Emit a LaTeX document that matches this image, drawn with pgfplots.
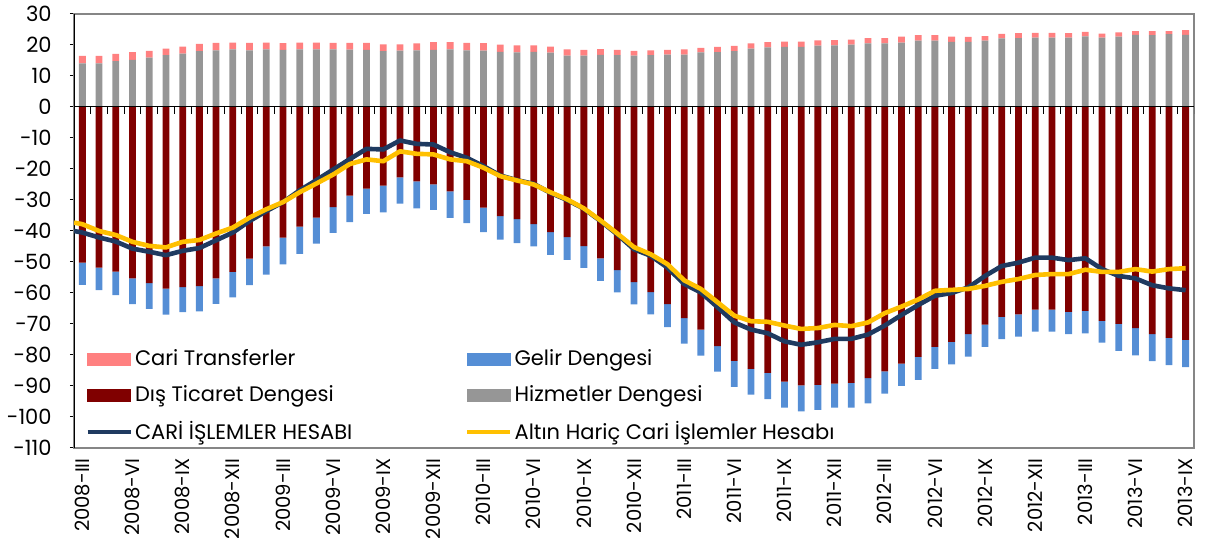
\documentclass[border=0pt]{standalone}
\usepackage{pgfplots}
\usepackage{pgfplotstable}
\pgfplotsset{compat=1.18}
\usepackage{fontspec}
\setmainfont{Poppins}
\definecolor{ctr}{HTML}{FF8080}
\definecolor{dtd}{HTML}{800000}
\definecolor{gel}{HTML}{558ED5}
\definecolor{hiz}{HTML}{969696}
\definecolor{cari}{HTML}{1F3A60}
\definecolor{altin}{HTML}{FFC000}
\definecolor{frame}{HTML}{868686}

\pgfplotstableread{
x H T D G
0 14.1 2.4 -50.2 -7.2
1 14.1 2.4 -51.8 -7.3
2 14.8 2.3 -53.1 -7.6
3 15.2 2.5 -55.3 -8.3
4 15.9 2.2 -56.8 -8.3
5 16.7 2.1 -58.6 -8.4
6 17.2 2.3 -58.1 -8.1
7 18.0 2.4 -57.8 -8.1
8 18.3 2.4 -55.3 -8.2
9 18.6 2.2 -53.2 -8.2
10 18.3 2.4 -48.9 -8.6
11 18.6 2.2 -45.0 -9.1
12 18.4 2.2 -42.1 -8.7
13 18.6 2.2 -38.6 -8.8
14 18.6 2.2 -35.7 -8.4
15 18.6 2.1 -32.3 -8.3
16 18.5 2.2 -28.6 -8.5
17 18.4 2.3 -26.3 -8.2
18 18.0 2.2 -25.4 -8.6
19 18.2 2.0 -22.7 -8.5
20 18.3 2.2 -24.0 -8.7
21 18.4 2.5 -25.0 -8.2
22 18.6 2.3 -27.2 -8.6
23 18.3 2.4 -30.0 -7.5
24 18.2 2.4 -32.5 -7.9
25 17.8 2.3 -35.2 -7.6
26 17.6 2.3 -36.2 -7.7
27 17.8 2.1 -37.8 -7.2
28 17.5 2.0 -40.4 -7.3
29 16.6 2.0 -42.0 -7.3
30 16.6 1.8 -44.9 -7.0
31 16.8 1.9 -48.8 -7.3
32 16.7 1.7 -52.6 -7.2
33 16.6 1.5 -56.5 -7.2
34 16.7 1.6 -59.7 -7.2
35 16.9 1.5 -63.6 -7.4
36 16.9 1.7 -68.1 -8.2
37 17.6 1.5 -71.8 -8.4
38 17.7 1.7 -77.1 -8.3
39 18.0 1.7 -81.9 -8.4
40 18.8 1.7 -84.5 -8.3
41 19.2 1.7 -85.8 -8.4
42 19.4 1.7 -88.6 -8.4
43 19.4 1.7 -89.8 -8.4
44 19.8 1.7 -89.6 -8.1
45 19.9 1.7 -89.2 -7.8
46 20.1 1.6 -89.0 -8.0
47 20.5 1.7 -87.5 -8.1
48 20.5 1.7 -85.3 -7.2
49 20.8 1.9 -82.8 -7.2
50 21.4 1.8 -80.6 -7.4
51 21.4 1.8 -77.4 -7.1
52 21.0 1.7 -75.8 -7.2
53 21.0 1.6 -73.3 -7.2
54 21.4 1.5 -70.2 -7.2
55 22.1 1.5 -67.7 -7.2
56 22.2 1.6 -66.9 -7.2
57 22.4 1.5 -65.4 -7.1
58 22.4 1.5 -65.4 -7.1
59 22.4 1.4 -66.1 -7.2
60 22.8 1.4 -65.8 -7.2
61 22.4 1.3 -69.0 -7.0
62 22.7 1.4 -70.0 -8.7
63 23.3 1.2 -71.3 -8.8
64 23.2 1.3 -73.3 -8.7
65 23.5 1.0 -74.5 -8.8
66 23.3 1.5 -75.1 -8.8
}\bars

\pgfplotstableread{
x CA AH
-0.5 -40.0 -37.3
0 -40.5 -37.8
1 -42.1 -40.0
2 -43.4 -41.3
3 -45.7 -43.5
4 -46.7 -44.8
5 -47.8 -45.3
6 -46.4 -43.5
7 -45.5 -42.9
8 -43.0 -40.8
9 -40.5 -38.9
10 -36.8 -35.7
11 -33.6 -33.0
12 -30.7 -30.7
13 -26.9 -27.5
14 -23.6 -24.7
15 -20.2 -21.8
16 -16.8 -18.4
17 -13.5 -16.9
18 -13.7 -17.5
19 -10.8 -14.3
20 -11.9 -15.1
21 -12.1 -15.3
22 -14.6 -16.9
23 -16.4 -17.5
24 -19.1 -19.6
25 -22.1 -22.3
26 -23.6 -23.7
27 -24.8 -25.0
28 -27.7 -27.5
29 -30.0 -29.8
30 -32.8 -32.7
31 -36.8 -36.6
32 -41.1 -40.8
33 -45.9 -45.2
34 -48.0 -47.5
35 -51.8 -50.7
36 -57.1 -55.9
37 -59.8 -58.7
38 -64.6 -63.0
39 -69.5 -67.3
40 -71.8 -69.1
41 -73.0 -69.3
42 -75.6 -70.5
43 -76.7 -71.6
44 -75.9 -71.3
45 -74.8 -70.3
46 -74.8 -70.7
47 -73.4 -69.5
48 -70.5 -66.5
49 -67.1 -64.4
50 -63.9 -62.1
51 -60.9 -59.3
52 -60.0 -59.0
53 -58.2 -58.7
54 -54.5 -57.7
55 -51.3 -56.4
56 -50.2 -55.5
57 -48.6 -54.2
58 -48.6 -53.9
59 -49.4 -53.9
60 -48.8 -52.5
61 -52.3 -53.2
62 -54.5 -53.2
63 -55.3 -52.3
64 -57.5 -53.1
65 -58.5 -52.3
66 -59.1 -52.0
}\lines

\pgfplotsset{base/.style={
  scale only axis, width=560pt, height=217pt,
  xmin=-0.5, xmax=66.5, ymin=-110, ymax=30,
  font=\fontsize{10.5}{12.6}\selectfont,
  clip=true,
}}

\begin{document}
\begin{tikzpicture}
\begin{axis}[base, ybar stacked, bar width=3.4pt,
  axis line style={draw=frame, line width=0.8pt},
  xtick={0,3,...,66},
  xticklabels={2008-III,2008-VI,2008-IX,2008-XII,2009-III,2009-VI,2009-IX,2009-XII,2010-III,2010-VI,2010-IX,2010-XII,2011-III,2011-VI,2011-IX,2011-XII,2012-III,2012-VI,2012-IX,2012-XII,2013-III,2013-VI,2013-IX},
  x tick label style={rotate=90, anchor=east, inner sep=0pt, xshift=-3pt, font=\fontsize{9.8}{11}\selectfont},
  xtick style={draw=none},
  xtick pos=bottom,
  ytick={-110,-100,...,30},
  ytick pos=left,
  y tick label style={anchor=east, inner sep=0pt, xshift=-9pt},
  ytick style={black, line width=0.5pt},
  major tick length=2pt, tick align=outside,
  /pgf/number format/assume math mode=true,
]
\addplot[fill=hiz, draw=none] table[x=x,y=H]{\bars};
\addplot[fill=ctr, draw=none] table[x=x,y=T]{\bars};
\end{axis}

\begin{axis}[base, hide axis, ybar stacked, bar width=3.4pt]
\addplot[fill=dtd, draw=none] table[x=x,y=D]{\bars};
\addplot[fill=gel, draw=none] table[x=x,y=G]{\bars};
\end{axis}

\begin{axis}[base, hide axis,
  legend columns=2,
  legend cell align=left,
  legend image code/.code={\draw[#1] (0pt,0pt) -- (21.5pt,0pt);},
  legend style={at={(0,0)}, anchor=south west, xshift=5.5pt, yshift=1.5pt,
    draw=none, fill=none, inner sep=0pt, row sep=6.5pt, column sep=0pt,
    nodes={inner sep=1pt}, font=\fontsize{10.5}{12.6}\selectfont},
]
\draw[black, line width=0.5pt] (axis cs:-0.5,0) -- (axis cs:66.5,0);
\pgfplotsinvokeforeach{0,...,67}{\draw[black, line width=0.5pt] (axis cs:#1-0.5,0) -- ([yshift=-3.5pt]axis cs:#1-0.5,0);}
\draw[black, line width=0.6pt] (rel axis cs:0,0) -- (rel axis cs:0,1);
\coordinate (SW) at (rel axis cs:0,0);
\coordinate (NE) at (rel axis cs:1,1);
\addlegendimage{legend image code/.code={\fill[ctr] (0pt,-3pt) rectangle (21.5pt,3pt);}}
\addlegendimage{legend image code/.code={\fill[gel] (0pt,-3pt) rectangle (21.5pt,3pt);}}
\addlegendimage{legend image code/.code={\fill[dtd] (0pt,-3pt) rectangle (21.5pt,3pt);}}
\addlegendimage{legend image code/.code={\fill[hiz] (0pt,-3pt) rectangle (21.5pt,3pt);}}
\addplot[cari, line width=2.3pt, line join=round, no marks] table[x=x,y=CA]{\lines};
\addplot[altin, line width=2.3pt, line join=round, no marks] table[x=x,y=AH]{\lines};
\legend{{\makebox[164pt][l]{Cari Transferler}},{Gelir Dengesi},{\makebox[164pt][l]{Dış Ticaret Dengesi}},{Hizmetler Dengesi},{\makebox[164pt][l]{CARİ İŞLEMLER HESABI}},{Altın Hariç Cari İşlemler Hesabı}}
\end{axis}
\pgfresetboundingbox
\useasboundingbox ([shift={(-37pt,-48pt)}]SW) rectangle ([shift={(5.5pt,7pt)}]NE);
\end{tikzpicture}
\end{document}
